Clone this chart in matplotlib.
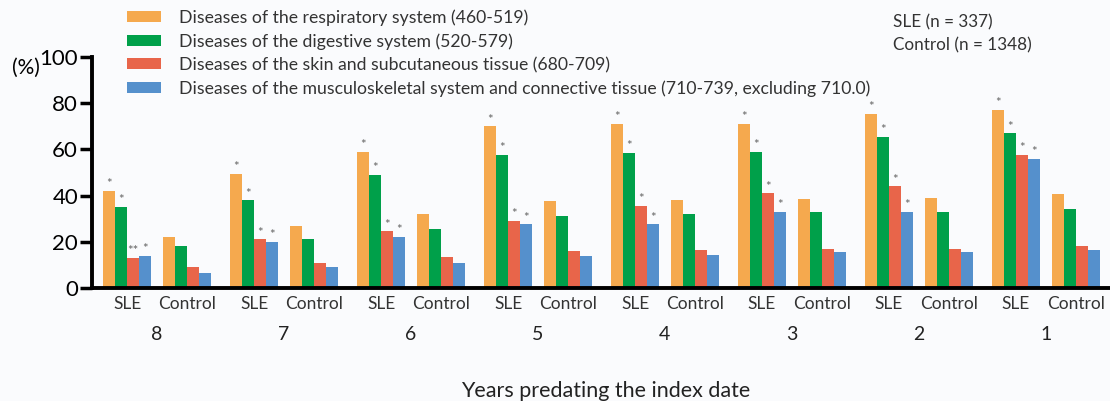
import numpy as np
import matplotlib.pyplot as plt
from matplotlib.patches import Patch
from matplotlib.transforms import blended_transform_factory

plt.rcParams['font.family'] = ['Lato', 'DejaVu Sans']

years = ['8', '7', '6', '5', '4', '3', '2', '1']
diseases = [
    'Diseases of the respiratory system (460-519)',
    'Diseases of the digestive system (520-579)',
    'Diseases of the skin and subcutaneous tissue (680-709)',
    'Diseases of the musculoskeletal system and connective tissue (710-739, excluding 710.0)',
]
colors = ['#F5A94E', '#00A04A', '#E8654A', '#5590CC']

# SLE values per disease, one entry per year (8 -> 1)
sle_resp = [42, 49.5, 59, 70, 71, 71, 75.5, 77]
sle_dig = [35, 38, 49, 57.5, 58.5, 59, 65.5, 67]
sle_skin = [13, 21, 24.5, 29, 35.5, 41, 44, 57.5]
sle_musc = [14, 20, 22, 27.5, 27.5, 33, 33, 56]
# Control values
ctl_resp = [22, 27, 32, 37.5, 38, 38.5, 39, 40.5]
ctl_dig = [18, 21, 25.5, 31, 32, 33, 33, 34]
ctl_skin = [9, 11, 13.5, 16, 16.5, 17, 17, 18]
ctl_musc = [6.5, 9, 11, 14, 14.5, 15.5, 15.5, 16.5]

stars_resp = ['*'] * 8
stars_dig = ['*'] * 8
stars_skin = ['**'] + ['*'] * 7
stars_musc = ['*'] * 8

sle = [sle_resp, sle_dig, sle_skin, sle_musc]
ctl = [ctl_resp, ctl_dig, ctl_skin, ctl_musc]
stars = [stars_resp, stars_dig, stars_skin, stars_musc]

bg = '#FAFBFD'
fig = plt.figure(figsize=(11.1, 4.01), dpi=100, facecolor=bg)
ax = fig.add_axes([92 / 1110, 113 / 401, 1 - 92 / 1110, 231 / 401], facecolor=bg)

x = np.arange(len(years))
ctl_off = 0.47
w = 0.095
for k in range(4):
    off = (k - 1.5) * w
    ax.bar(x + off, sle[k], width=w, color=colors[k], edgecolor='none')
    ax.bar(x + ctl_off + off, ctl[k], width=w, color=colors[k], edgecolor='none')
    for i in range(len(years)):
        ax.text(x[i] + off, sle[k][i] + 0.3, stars[k][i], ha='center', va='bottom',
                fontsize=9.5, color='#666666')

ax.set_ylim(0, 100)
ax.set_yticks(range(0, 101, 20))
ax.set_xlim(-0.276, 7.74)
ax.set_xticks(np.concatenate([x, x + ctl_off]))
ax.set_xticklabels(['SLE'] * 8 + ['Control'] * 8, fontsize=12.5, color='#333333')
ax.tick_params(axis='x', length=0, pad=6)
ax.tick_params(axis='y', length=9, width=2.5, labelsize=16, pad=1)
for s in ['top', 'right']:
    ax.spines[s].set_visible(False)
for s in ['left', 'bottom']:
    ax.spines[s].set_linewidth(2.8)

trans = blended_transform_factory(ax.transData, fig.transFigure)
for i, yr in enumerate(years):
    ax.text(x[i] + ctl_off / 2, 1 - 335 / 401, yr, transform=trans, ha='center',
            va='center', fontsize=14, color='#222222')

fig.text(0.011, 1 - 68 / 401, '(%)', fontsize=15, va='center', ha='left')
fig.text(606 / 1110, 1 - 391 / 401, 'Years predating the index date', fontsize=15.5,
         ha='center', va='center', color='#222222')

handles = [Patch(facecolor=c, edgecolor='none') for c in colors]
fig.legend(handles, diseases, loc='upper left', bbox_to_anchor=(127 / 1110, 1 - 9 / 401),
           frameon=False, fontsize=12.7, labelspacing=0.42, handlelength=1.9,
           handleheight=0.6, handletextpad=1.05, borderpad=0, borderaxespad=0,
           labelcolor='#333333')

fig.text(893 / 1110, 1 - 22 / 401, 'SLE (n = 337)', fontsize=12.3, va='center', color='#333333')
fig.text(893 / 1110, 1 - 45 / 401, 'Control (n = 1348)', fontsize=12.3, va='center', color='#333333')

fig.savefig('out.png', dpi=100, facecolor=bg)
